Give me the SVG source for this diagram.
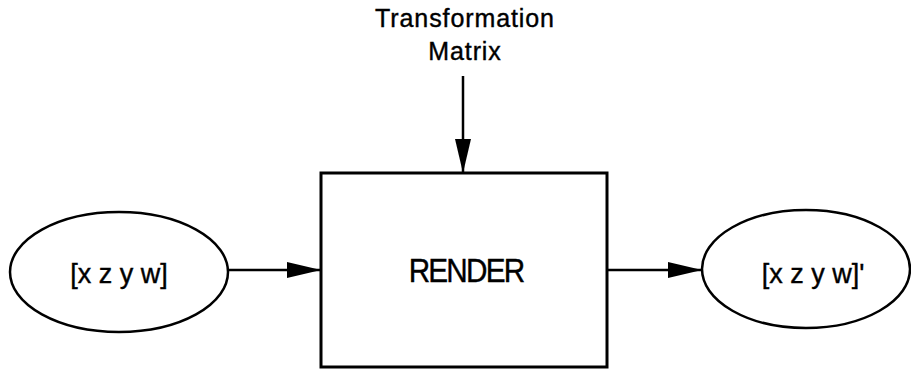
<svg xmlns="http://www.w3.org/2000/svg" width="911" height="370" viewBox="0 0 911 370">
  <style>
    .shape { fill: #ffffff; stroke: #000000; stroke-width: 2.5; }
    .box { fill: #ffffff; stroke: #000000; stroke-width: 3; }
    .link { fill: none; stroke: #000000; stroke-width: 2.5; marker-end: url(#head); }
    .label { font-family: "Liberation Sans", Arial, sans-serif; fill: #000000; stroke: #000000; stroke-width: 0.4px; text-anchor: middle; }
    .vec { font-size: 27px; }
    .title { font-size: 25px; letter-spacing: 0.9px; }
    .render { font-size: 33px; letter-spacing: -2px; }
  </style>
  <defs>
    <marker id="head" viewBox="0 0 34 16" markerWidth="34" markerHeight="16" refX="34" refY="8" markerUnits="userSpaceOnUse" orient="auto">
      <path d="M0,0 L34,8 L0,16 Z" fill="#000000"/>
    </marker>
  </defs>

  <!-- input vector -->
  <g id="input">
    <ellipse class="shape" cx="119" cy="272" rx="109" ry="60"/>
    <text class="label vec" x="119" y="283">[x z y w]</text>
  </g>

  <!-- render stage -->
  <g id="render">
    <rect class="box" x="321" y="173" width="286" height="194"/>
    <text class="label render" transform="translate(466,282) scale(0.9,1)" x="0" y="0">RENDER</text>
  </g>

  <!-- output vector -->
  <g id="output">
    <ellipse class="shape" cx="806" cy="269" rx="104" ry="59"/>
    <text class="label vec" x="813" y="283">[x z y w]'</text>
  </g>

  <!-- matrix input label -->
  <g id="matrix">
    <text class="label title" x="465" y="27">Transformation</text>
    <text class="label title" x="465" y="60">Matrix</text>
  </g>

  <!-- connectors -->
  <g id="connectors">
    <line class="link" x1="463" y1="76" x2="463" y2="173"/>
    <line class="link" x1="228" y1="270" x2="321" y2="270"/>
    <line class="link" x1="607" y1="270" x2="702" y2="270"/>
  </g>
</svg>
